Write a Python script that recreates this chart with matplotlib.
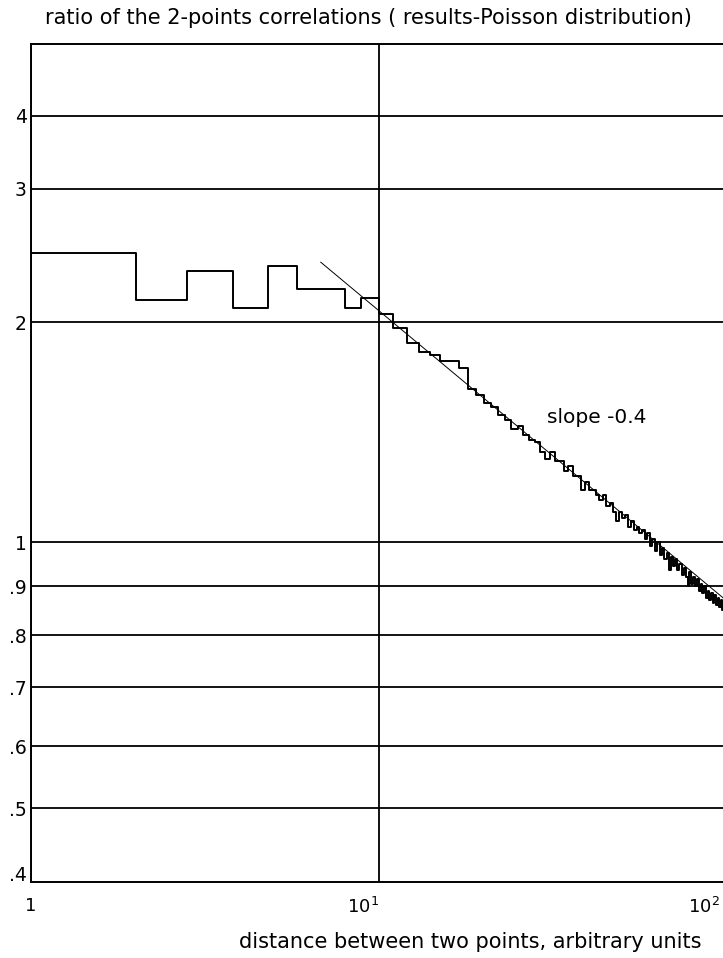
import numpy as np
import matplotlib
matplotlib.use('Agg')
import matplotlib.pyplot as plt
from matplotlib.ticker import NullLocator
from matplotlib.transforms import ScaledTranslation

# data: ratio of the 2-point correlations, step per distance bin
edges_short = [1, 2, 2.8, 3.8, 4.8, 5.8, 8, 8.9]
ratio_short = [2.47, 2.14, 2.34, 2.09, 2.37, 2.21, 2.09, 2.15]

edges_long = np.arange(10, 100)   # integer distance bins 10..99
ratio_long = [
    2.05, 1.96, 1.87, 1.82, 1.80, 1.77, 1.77, 1.73, 1.62, 1.59,
    1.55, 1.53, 1.49, 1.47, 1.43, 1.44, 1.40, 1.38, 1.37, 1.33,
    1.30, 1.33, 1.29, 1.29, 1.25, 1.27, 1.23, 1.23, 1.18, 1.21,
    1.18, 1.18, 1.16, 1.14, 1.16, 1.12, 1.13, 1.10, 1.07, 1.10,
    1.08, 1.09, 1.05, 1.07, 1.04, 1.05, 1.03, 1.04, 1.01, 1.03,
    0.99, 1.01, 0.98, 1.00, 0.97, 0.985, 0.96, 0.975, 0.935, 0.965,
    0.945, 0.96, 0.935, 0.95, 0.925, 0.94, 0.92, 0.90, 0.93, 0.905,
    0.92, 0.90, 0.915, 0.89, 0.905, 0.885, 0.90, 0.875, 0.89, 0.87,
    0.885, 0.865, 0.88, 0.86, 0.875, 0.855, 0.87, 0.85, 0.865, 0.85,
]
x_end = 100

# fitted power law, slope -0.4
fit_x = [6.8, 100]
fit_y = [2.40, 0.868]

y_ticks = [0.4, 0.5, 0.6, 0.7, 0.8, 0.9, 1, 2, 3, 4]
y_labels = ['.4', '.5', '.6', '.7', '.8', '.9', '1', '2', '3', '4']
x_ticks = [1, 10, 100]
x_labels = ['1', '$10^{1}$', '$10^{2}$']

# the old plotting program used an uneven ratio axis, rebuild it
# as a piecewise log scale (anchor value -> relative height)
scale_val = np.log10([0.4, 0.5, 0.6, 0.7, 0.8, 0.9, 1, 2, 3, 4])
scale_pos = np.array([9, 74, 136, 195, 247, 296, 340, 560, 693, 766.])
s_lo = (scale_pos[1] - scale_pos[0]) / (scale_val[1] - scale_val[0])
s_hi = (scale_pos[-1] - scale_pos[-2]) / (scale_val[-1] - scale_val[-2])


def fwd(v):
    lv = np.log10(np.clip(np.asarray(v, dtype=float), 1e-9, None))
    out = np.interp(lv, scale_val, scale_pos)
    out = np.where(lv < scale_val[0], scale_pos[0] + (lv - scale_val[0]) * s_lo, out)
    out = np.where(lv > scale_val[-1], scale_pos[-1] + (lv - scale_val[-1]) * s_hi, out)
    return out


def inv(p):
    p = np.asarray(p, dtype=float)
    lv = np.interp(p, scale_pos, scale_val)
    lv = np.where(p < scale_pos[0], scale_val[0] + (p - scale_pos[0]) / s_lo, lv)
    lv = np.where(p > scale_pos[-1], scale_val[-1] + (p - scale_pos[-1]) / s_hi, lv)
    return 10 ** lv


plt.rcParams['font.family'] = 'DejaVu Sans'

fig = plt.figure(figsize=(7.23, 9.58), dpi=100)
ax = fig.add_axes([0.0429, 0.0793, 0.9627, 0.8747])

ax.set_xscale('log')
ax.set_yscale('function', functions=(fwd, inv))
ax.set_xlim(1, 100)
ax.set_ylim(0.388, 5.31)

# step curve
x_all = list(edges_short) + list(edges_long) + [x_end]
y_all = list(ratio_short) + list(ratio_long) + [ratio_long[-1]]
ax.step(x_all, y_all, where='post', color='k', lw=1.4, zorder=3)

ax.plot(fit_x, fit_y, color='k', lw=0.7, zorder=4)

ax.text(30.4, 1.48, 'slope -0.4', fontsize=14.5, ha='left', va='center')

# axes
ax.set_xticks(x_ticks, x_labels, fontsize=13)
ax.set_yticks(y_ticks, y_labels, fontsize=13.5)
ax.xaxis.set_minor_locator(NullLocator())
ax.yaxis.set_minor_locator(NullLocator())
ax.tick_params(length=0)
ax.tick_params(axis='x', pad=11)
ax.tick_params(axis='y', pad=3)
ax.grid(True, color='k', lw=1.3)
ax.yaxis.get_major_ticks()[0].gridline.set_visible(False)

xt = ax.xaxis.get_major_ticks()
xt[1].label1.set_ha('right')
xt[2].label1.set_ha('right')
xt[2].label1.set_transform(xt[2].label1.get_transform() +
                           ScaledTranslation(-5 / 72, 0, fig.dpi_scale_trans))

for sp in ax.spines.values():
    sp.set_linewidth(1.4)

fig.text(45 / 723, 1 - 18 / 958,
         'ratio of the 2-points correlations ( results-Poisson distribution)',
         fontsize=15, ha='left', va='center')
fig.text(470 / 723, 1 - 942 / 958,
         'distance between two points, arbitrary units',
         fontsize=15, ha='center', va='center')

plt.savefig('out.png', dpi=100)
plt.close('all')
